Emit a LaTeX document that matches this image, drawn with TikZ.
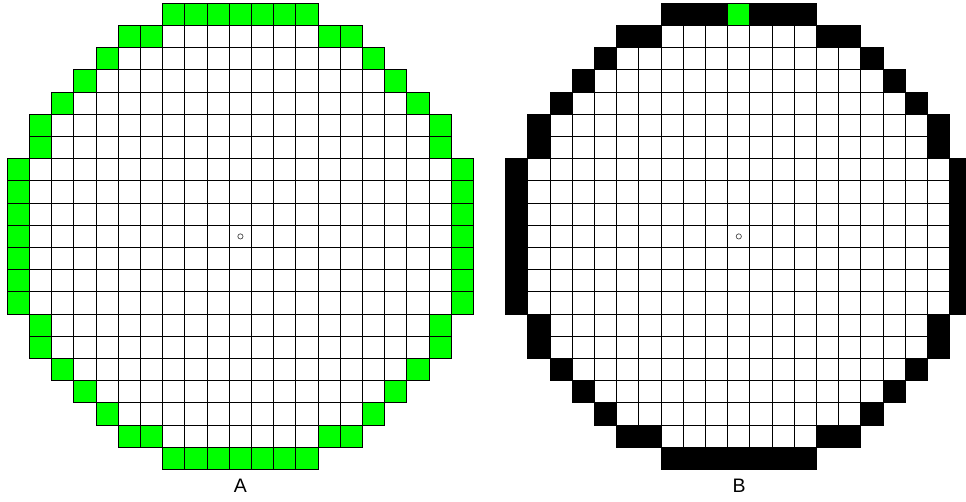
\documentclass[tikz,border=0pt]{standalone}
\usepackage{fontspec}
\setsansfont{Liberation Sans}
\definecolor{limegreen}{RGB}{0,255,0}
% row / half width / first rim offset
\newcommand\discrows{0/3/0,1/5/4,2/6/6,3/7/7,4/8/8,5/9/9,6/9/9,7/10/10,8/10/10,9/10/10,10/10/10,11/10/10,12/10/10,13/10/10,14/9/9,15/9/9,16/8/8,17/7/7,18/6/6,19/5/4,20/3/0}
\begin{document}
\begin{tikzpicture}[x=22.2pt,y=-22.2pt,line width=1pt,
    cell/.style={draw=black,fill=white},
    green cell/.style={draw=black,fill=limegreen},
    black cell/.style={draw=black,fill=black},
    centre mark/.style={draw=black!70,line width=0.7pt},
    letter/.style={font=\sffamily\fontsize{19.5}{20}\selectfont,inner sep=0pt}]
    \useasboundingbox (0,0) rectangle (43.514,22.568);
    % disc A
    \begin{scope}[shift={(0.33,0.15)}]
    \foreach \r/\w/\v in \discrows {
        \foreach \c in {-\w,...,\w}
            \draw [cell] (10+\c,\r) rectangle ++(1,1);
        \foreach \c in {\v,...,\w} {
            \draw [green cell] (10-\c,\r) rectangle ++(1,1);
            \draw [green cell] (10+\c,\r) rectangle ++(1,1);
        }
    }
    \draw [centre mark] (10.5,10.5) circle (2.6pt);
    \end{scope}
    % disc B
    \begin{scope}[shift={(22.78,0.15)}]
    \foreach \r/\w/\v in \discrows {
        \foreach \c in {-\w,...,\w}
            \draw [cell] (10+\c,\r) rectangle ++(1,1);
        \foreach \c in {\v,...,\w} {
            \draw [black cell] (10-\c,\r) rectangle ++(1,1);
            \draw [black cell] (10+\c,\r) rectangle ++(1,1);
        }
    }
    \draw [green cell] (10,0) rectangle ++(1,1);
    \draw [centre mark] (10.5,10.5) circle (2.6pt);
    \end{scope}
    \node [letter] (labA) at (10.83,21.89) {A};
    \node [letter] (labB) at (33.29,21.89) {B};
\end{tikzpicture}
\end{document}
